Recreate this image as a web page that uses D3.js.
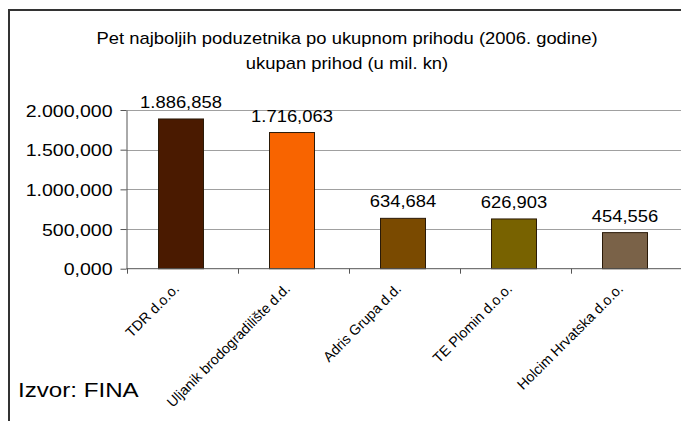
<!DOCTYPE html>
<html lang="hr">
<head>
  <meta charset="UTF-8">
  <title>Pet najboljih poduzetnika po ukupnom prihodu</title>
  <style>
    body { margin: 0; background: #fff; overflow: hidden; }
    svg { display: block; font-family: "Liberation Sans", Arial, sans-serif; }
    .grid line { stroke: #a0a0a0; stroke-width: 1px; }
    .axis path, .axis line { stroke: #555; }
  </style>
</head>
<body>
  <script src="https://d3js.org/d3.v7.min.js"></script>
  <script>
    const companies = ["TDR d.o.o.", "Uljanik brodogradilište d.d.", "Adris Grupa d.d.", "TE Plomin d.o.o.", "Holcim Hrvatska d.o.o."];
    const revenue = [1886.858, 1716.063, 634.684, 626.903, 454.556];
    const valueLabels = ["1.886,858", "1.716,063", "634,684", "626,903", "454,556"];
    const barColors = ["#4a1a00", "#f86400", "#7a4a00", "#786200", "#7a6248"];
    const yTicks = [0, 500, 1000, 1500, 2000];
    const yTickLabels = ["0,000", "500,000", "1.000,000", "1.500,000", "2.000,000"];

    const width = 681, height = 421;
    const plotLeft = 126.5, plotRight = 681.5, plotTop = 110, plotBottom = 268.7;
    const sx = 1.15; // slika je malo razvučena vodoravno

    const svg = d3.select("body").append("svg").attr("width", width).attr("height", height);

    const stretched = (sel, px, py) => sel.attr("transform", `translate(${px},${py}) scale(${sx},1)`);

    // okvir grafikona
    svg.append("rect")
      .attr("x", 9).attr("y", 10).attr("width", 690).attr("height", 430)
      .attr("fill", "none").attr("stroke", "#333").attr("stroke-width", 2);

    stretched(svg.append("text"), 347, 44).attr("text-anchor", "middle")
      .attr("font-size", 16).attr("fill", "#000")
      .text("Pet najboljih poduzetnika po ukupnom prihodu (2006. godine)");
    stretched(svg.append("text"), 347, 69).attr("text-anchor", "middle")
      .attr("font-size", 16).attr("fill", "#000")
      .text("ukupan prihod (u mil. kn)");

    const x = d3.scaleBand().domain(companies).range([plotLeft, plotRight]).padding(0);
    const y = d3.scaleLinear().domain([0, 2000]).range([plotBottom, plotTop]);

    // mreža
    svg.append("g").attr("class", "grid")
      .selectAll("line").data(yTicks.slice(1)).enter().append("line")
      .attr("x1", plotLeft).attr("x2", width)
      .attr("y1", d => Math.round(y(d)) + 0.5).attr("y2", d => Math.round(y(d)) + 0.5);

    // y os
    const yAxis = svg.append("g").attr("class", "axis")
      .attr("transform", `translate(${plotLeft},0)`)
      .call(d3.axisLeft(y).tickValues(yTicks).tickSize(6).tickSizeOuter(0)
        .tickFormat((d, i) => yTickLabels[i]));
    yAxis.selectAll("text").attr("font-size", 17).attr("fill", "#000")
      .attr("font-family", "Liberation Sans, Arial, sans-serif")
      .attr("x", 0).attr("dy", null)
      .attr("transform", `translate(-14,6) scale(${sx},1)`);

    // stupci
    const barW = 45;
    svg.append("g").selectAll("rect").data(companies).enter().append("rect")
      .attr("x", d => x(d) + x.bandwidth() / 2 - barW / 2 - 1)
      .attr("y", (d, i) => y(revenue[i]))
      .attr("width", barW)
      .attr("height", (d, i) => plotBottom - y(revenue[i]))
      .attr("fill", (d, i) => barColors[i])
      .attr("stroke", "#2a1a08").attr("stroke-width", 1);

    // x os
    svg.append("line").attr("x1", plotLeft).attr("x2", width)
      .attr("y1", plotBottom).attr("y2", plotBottom).attr("stroke", "#555");
    svg.append("g").selectAll("line").data(companies).enter().append("line")
      .attr("x1", d => Math.round(x(d)) + 0.5).attr("x2", d => Math.round(x(d)) + 0.5)
      .attr("y1", plotBottom).attr("y2", plotBottom + 5).attr("stroke", "#555");

    // vrijednosti
    svg.append("g").selectAll("text").data(companies).enter().append("text")
      .attr("transform", (d, i) => `translate(${x(d) + x.bandwidth() / 2 - 1},${y(revenue[i]) - 11}) scale(${sx},1)`)
      .attr("text-anchor", "middle").attr("font-size", 16).attr("fill", "#000")
      .text((d, i) => valueLabels[i]);

    // nazivi kategorija
    svg.append("g").selectAll("text").data(companies).enter().append("text")
      .attr("transform", d => `translate(${x(d) + x.bandwidth() / 2 - 2},${plotBottom + 21}) rotate(-45)`)
      .attr("text-anchor", "end").attr("font-size", 14.2).attr("fill", "#000")
      .text(d => d);

    stretched(svg.append("text"), 18, 397)
      .attr("font-size", 21).attr("fill", "#000").text("Izvor: FINA");
  </script>
</body>
</html>
